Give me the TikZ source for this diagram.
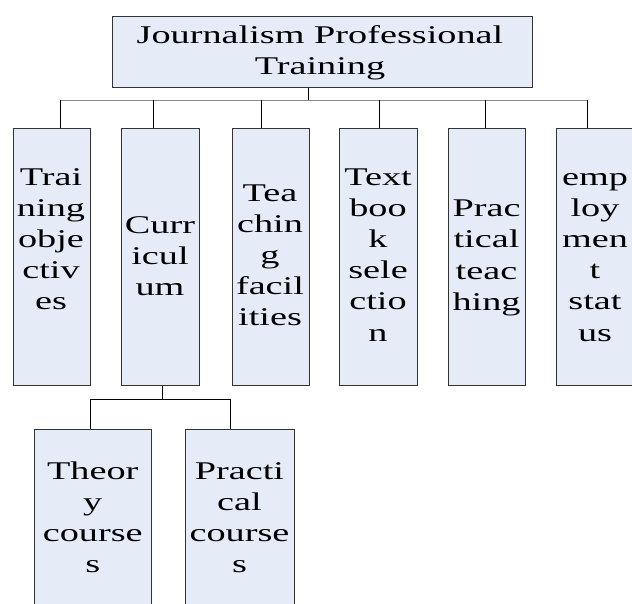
\documentclass[tikz,border=0pt]{standalone}
\usepackage{fontspec}
\setmainfont[FakeStretch=1.5]{Liberation Serif}
\definecolor{boxfill}{HTML}{E6ECF7}
\definecolor{boxline}{HTML}{333333}
\definecolor{busline}{HTML}{8A8A8A}
\tikzset{
  box/.style={draw=boxline, line width=0.9pt, fill=boxfill, rectangle, inner sep=0pt},
  lbl/.style={align=center, inner sep=0pt, anchor=base, font=\fontsize{25.5}{31.2}\selectfont},
  conn/.style={draw=black, line width=0.8pt},
  bus/.style={draw=busline, line width=0.9pt}
}
\newcommand{\mybox}[5]{% name, x1, y1, x2, y2
  \node[box, minimum width=#4pt-#2pt, minimum height=#5pt-#3pt, anchor=north west] (#1) at (#2,#3) {};}
\begin{document}
\begin{tikzpicture}[x=1pt,y=-1pt]
\useasboundingbox (0,0) rectangle (632,604);
\clip (0,0) rectangle (632,604);
% boxes
\mybox{top}{112}{16}{532}{87}
\mybox{b1}{12.7}{128}{90}{385}
\mybox{b2}{121}{128}{199}{385}
\mybox{b3}{232}{128}{309}{385}
\mybox{b4}{339}{128}{417}{385}
\mybox{b5}{448}{128}{525}{385}
\mybox{b6}{556}{128}{634}{385}
\mybox{th}{34.3}{429}{151}{640}
\mybox{pr}{185}{429}{294}{640}
% labels (anchor = baseline of last line)
\node[lbl] (ttop) at (320,74.5) {Journalism Professional\\Training};
\node[lbl] (t1) at (51,309.8) {Trai\\ning\\obje\\ctiv\\es};
\node[lbl] (t2) at (160,295.4) {Curr\\icul\\um};
\node[lbl] (t3) at (270,325.8) {Tea\\chin\\g\\facil\\ities};
\node[lbl] (t4) at (378,341) {Text\\boo\\k\\sele\\ctio\\n};
\node[lbl] (t5) at (486.5,310.3) {Prac\\tical\\teac\\hing};
\node[lbl] (t6) at (595,341) {emp\\loy\\men\\t\\stat\\us};
\node[lbl] (tth) at (92.7,572.9) {Theor\\y\\course\\s};
\node[lbl] (tpr) at (239.5,572.9) {Practi\\cal\\course\\s};
% connectors level 1
\coordinate (j) at (308,100);
\coordinate (s1) at (60,100);
\coordinate (s2) at (153,100);
\coordinate (s3) at (261,100);
\coordinate (s4) at (379,100);
\coordinate (s5) at (485,100);
\coordinate (s6) at (587,100);
\draw[bus] (s1) -- (s6);
\draw[conn] (top.south -| j) -- (j);
\foreach \i in {1,...,6}{
  \draw[conn] (s\i) -- (b\i.north -| s\i);
}
% connectors level 2
\coordinate (k) at (162,399);
\coordinate (k1) at (90,399);
\coordinate (k2) at (230,399);
\draw[conn] (b2.south -| k) -- (k);
\draw[conn] (k1) -- (k2);
\draw[conn] (k1) -- (th.north -| k1);
\draw[conn] (k2) -- (pr.north -| k2);
\end{tikzpicture}
\end{document}
